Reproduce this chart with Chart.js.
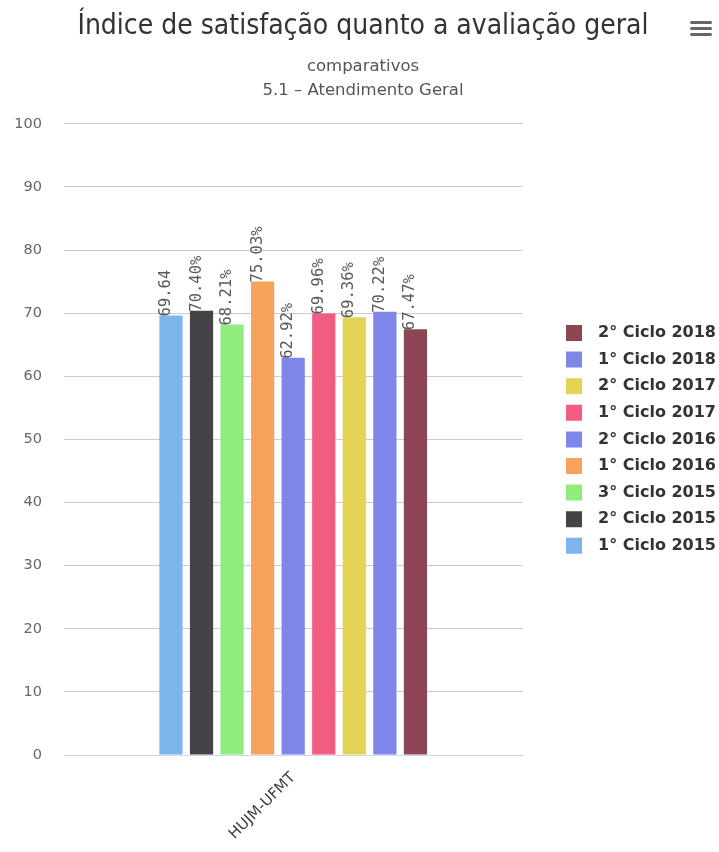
<!DOCTYPE html>
<html>
<head>
<meta charset="utf-8">
<script src="https://cdn.jsdelivr.net/npm/chart.js@4/dist/chart.umd.min.js"></script>
<style>
  html, body { margin: 0; padding: 0; background: #ffffff; }
  #wrap { position: relative; width: 719px; height: 852px; }
  #chart { display: block; }
  .menu { position: absolute; left: 690px; width: 22px; height: 3px; background: #666; border-radius: 1.5px; }
</style>
</head>
<body>
<div id="wrap">
  <canvas id="chart" width="719" height="852"></canvas>
  <div class="menu" style="top:21px"></div>
  <div class="menu" style="top:27px"></div>
  <div class="menu" style="top:33px"></div>
</div>
<script>
// Category on the x axis
const categories = ['HUJM-UFMT'];

// One series per survey cycle
const seriesNames = [
  '1° Ciclo 2015', '2° Ciclo 2015', '3° Ciclo 2015',
  '1° Ciclo 2016', '2° Ciclo 2016',
  '1° Ciclo 2017', '2° Ciclo 2017',
  '1° Ciclo 2018', '2° Ciclo 2018'
];
const seriesValues = [69.64, 70.40, 68.21, 75.03, 62.92, 69.96, 69.36, 70.22, 67.47];
const labelSuffixes = ['', '%', '%', '%', '%', '%', '%', '%', '%'];
const seriesColors = ['#7cb5ec', '#434348', '#90ed7d', '#f7a35c', '#8085e9', '#f15c80', '#e4d354', '#8085e8', '#8d4653'];

// Value axis
const yMin = 0;
const yMax = 100;
const yStep = 10;

const titleText = 'Índice de satisfação quanto a avaliação geral';
const subtitleLines = ['comparativos', '5.1 – Atendimento Geral'];

const datasets = seriesNames.map((name, i) => ({
  label: name,
  data: [seriesValues[i]],
  backgroundColor: seriesColors[i],
  borderWidth: 0,
  categoryPercentage: 0.6,
  barPercentage: 0.76
}));

// Rotated value labels above each bar
const valueLabels = {
  id: 'valueLabels',
  afterDatasetsDraw(chart) {
    const ctx = chart.ctx;
    ctx.save();
    ctx.font = '15.5px "DejaVu Sans Mono", monospace';
    ctx.fillStyle = '#5a5a5a';
    ctx.textAlign = 'left';
    ctx.textBaseline = 'middle';
    chart.data.datasets.forEach((ds, i) => {
      const meta = chart.getDatasetMeta(i);
      meta.data.forEach((bar, j) => {
        const text = ds.data[j].toFixed(2) + labelSuffixes[i];
        ctx.save();
        ctx.translate(bar.x - 5, bar.y + 1);
        ctx.rotate(-Math.PI / 2);
        ctx.fillText(text, 0, 0);
        ctx.restore();
      });
    });
    ctx.restore();
  }
};

new Chart(document.getElementById('chart'), {
  type: 'bar',
  data: { labels: categories, datasets },
  options: {
    responsive: false,
    animation: false,
    layout: { padding: { left: 0, right: -7, top: 0, bottom: 0 } },
    plugins: {
      title: {
        display: true,
        text: titleText,
        color: '#333333',
        font: { family: '"Liberation Sans Narrow", "DejaVu Sans Condensed", sans-serif', size: 28, weight: 'normal' },
        padding: { top: 10, bottom: 6 }
      },
      subtitle: {
        display: true,
        text: subtitleLines,
        color: '#555555',
        font: { family: '"DejaVu Sans", sans-serif', size: 16.5, lineHeight: 1.4 },
        padding: { top: 6, bottom: 22 }
      },
      legend: {
        position: 'right',
        reverse: true,
        fullSize: false,
        maxWidth: 220,
        labels: {
          boxWidth: 16,
          boxHeight: 16,
          padding: 10.6,
          color: '#333333',
          font: { family: '"DejaVu Sans", sans-serif', size: 16, weight: 'bold' },
          generateLabels(chart) {
            const items = Chart.defaults.plugins.legend.labels.generateLabels(chart);
            items.forEach(it => { it.text = '\u2002' + it.text; it.lineWidth = 0; });
            return items;
          }
        }
      },
      tooltip: { enabled: false }
    },
    scales: {
      x: {
        grid: { display: false },
        border: { display: true, color: '#ccd6eb', width: 1 },
        ticks: {
          color: '#3c3c46',
          font: { family: '"DejaVu Sans", sans-serif', size: 15 },
          maxRotation: 45,
          minRotation: 45,
          padding: 6
        },
        afterFit(scale) { scale.height = 97; }
      },
      y: {
        min: yMin,
        max: yMax,
        ticks: {
          stepSize: yStep,
          color: '#666666',
          padding: 22,
          font: { family: '"DejaVu Sans", sans-serif', size: 14.5 }
        },
        grid: {
          drawTicks: false,
          color: (c) => c.tick && c.tick.value === 0 ? '#ccd6eb' : '#cccccc',
          lineWidth: 1
        },
        border: { display: false },
        afterFit(scale) { scale.width = 64; }
      },
      gap: {
        type: 'linear',
        position: 'right',
        display: true,
        grid: { display: false },
        border: { display: false },
        ticks: { display: false },
        afterFit(scale) { scale.width = 33; }
      }
    }
  },
  plugins: [valueLabels]
});
</script>
</body>
</html>
